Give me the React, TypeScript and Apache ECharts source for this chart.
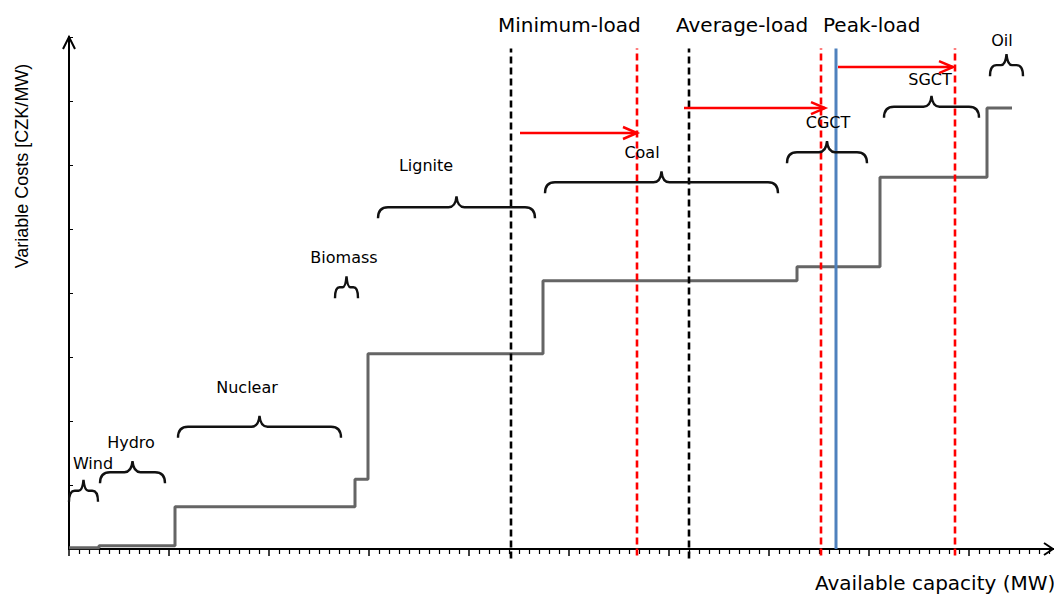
import React, { useEffect, useRef } from "react";
import * as echarts from "echarts";

// Merit-order step curve: capacity breakpoints (MW) and variable cost of each block
const stepBreaks = [0, 300, 1060, 2860, 2990, 4740, 7280, 8110, 9180, 9430];
const stepCosts = [2, 5, 66, 109, 305, 419, 441, 581, 689];

// Technology braces (capacity span and brace level) and label anchors
const sourceNames = ["Wind", "Hydro", "Nuclear", "Biomass", "Lignite", "Coal", "CGCT", "SGCT", "Oil"];
const braceStart = [0, 310, 1090, 2660, 3090, 4760, 7180, 8150, 9210];
const braceEnd = [290, 960, 2720, 2890, 4660, 7090, 7980, 9100, 9540];
const braceLevel = [91, 120, 191, 409, 534, 573, 620, 691, 756];
const labelX = [240, 620, 1780, 2750, 3570, 5730, 7590, 8610, 9330];
const labelY = [134, 166, 253, 455, 600, 620, 666, 734, 794];

// Load levels and shifted loads
const loadNames = ["Minimum-load", "Average-load", "Peak-load"];
const loadX = [4420, 6200, 7670];
const shiftedLoadX = [5680, 7520, 8860];
const arrowFrom = [4510, 6150, 7690];
const arrowTo = [5680, 7560, 8840];
const arrowCost = [650, 689, 753];

const lineTop = 782;
const headerCost = 819;

const yTicks = [0, 100, 200, 300, 400, 500, 600, 700, 800];
const xTicks = [0, 1000, 2000, 3000, 4000, 5000, 6000, 7000, 8000, 9000, 10000];

export default function App() {
  const ref = useRef<HTMLDivElement>(null);

  useEffect(() => {
    if (!ref.current) return;
    const chart = echarts.init(ref.current, null, { renderer: "svg" });

    const stepData = stepBreaks.map((x, i) => [x, stepCosts[Math.min(i, stepCosts.length - 1)]]);

    const loadSeries = loadX.map((x, i) => ({
      type: "line",
      name: loadNames[i],
      data: [
        [x, i === 2 ? 0 : -15],
        [x, lineTop],
      ],
      symbol: "none",
      clip: false,
      silent: true,
      z: 4,
      lineStyle:
        i === 2
          ? { color: "#4f81bd", width: 3 }
          : { color: "#000000", width: 2.6, type: [7, 4] },
    }));

    const shiftedSeries = shiftedLoadX.map((x) => ({
      type: "line",
      data: [
        [x, -10],
        [x, lineTop],
      ],
      symbol: "none",
      clip: false,
      silent: true,
      z: 4,
      lineStyle: { color: "#ff0000", width: 2.6, type: [7, 4] },
    }));

    const option: any = {
      animation: false,
      grid: {
        left: 69,
        width: 1000,
        top: 37,
        height: 512,
        containLabel: false,
        outerBoundsMode: "none",
      },
      xAxis: {
        type: "value",
        min: xTicks[0],
        max: xTicks[xTicks.length - 1],
        interval: 1000,
        axisLine: { show: true, onZero: false, lineStyle: { color: "#000", width: 2 } },
        axisTick: { show: true, length: 7, lineStyle: { color: "#000", width: 1.5 } },
        minorTick: { show: true, splitNumber: 10, length: 5, lineStyle: { color: "#000", width: 1.2 } },
        axisLabel: { show: false },
        splitLine: { show: false },
        minorSplitLine: { show: false },
      },
      yAxis: {
        type: "value",
        min: yTicks[0],
        max: yTicks[yTicks.length - 1],
        interval: 100,
        axisLine: { show: true, onZero: false, lineStyle: { color: "#000", width: 2 } },
        axisTick: { show: true, inside: true, length: 4, lineStyle: { color: "#000", width: 1 } },
        axisLabel: { show: false },
        splitLine: { show: false },
      },
      graphic: [
        {
          type: "rect",
          shape: { x: 1054, y: 0, width: 40, height: 594 },
          style: { fill: "#fff" },
          z: 100,
        },
        {
          type: "polyline",
          shape: { points: [[63, 49], [69, 37], [75, 49]] },
          style: { stroke: "#000", lineWidth: 2, fill: "none" },
        },
        {
          type: "polyline",
          shape: { points: [[1044, 543], [1053, 549], [1044, 555]] },
          style: { stroke: "#000", lineWidth: 2, fill: "none" },
        },
        {
          type: "text",
          x: 22,
          y: 166,
          rotation: Math.PI / 2,
          style: {
            text: "Variable Costs [CZK/MW)",
            font: '18px "Liberation Sans"',
            fill: "#000",
            textAlign: "center",
            textVerticalAlign: "middle",
            align: "center",
            verticalAlign: "middle",
          },
        },
        {
          type: "text",
          x: 815,
          y: 583,
          style: {
            text: "Available capacity (MW)",
            font: '20px "DejaVu Sans"',
            fill: "#000",
            textAlign: "left",
            textVerticalAlign: "middle",
            align: "left",
            verticalAlign: "middle",
          },
        },
      ],
      series: [
        {
          type: "line",
          name: "Merit order",
          data: stepData,
          step: "end",
          symbol: "none",
          clip: false,
          silent: true,
          z: 3,
          lineStyle: { color: "#656565", width: 3 },
        },
        ...loadSeries,
        ...shiftedSeries,
        {
          type: "custom",
          name: "braces",
          clip: false,
          silent: true,
          z: 5,
          encode: { x: [0, 1], y: 2 },
          data: sourceNames.map((_, i) => [braceStart[i], braceEnd[i], braceLevel[i]]),
          renderItem: (params: any, api: any) => {
            const p1 = api.coord([api.value(0), api.value(2)]);
            const p2 = api.coord([api.value(1), api.value(2)]);
            const L = p1[0];
            const R = p2[0];
            const y = p1[1];
            const M = (L + R) / 2;
            const w = R - L;
            const tip = 11;
            const drop = 11;
            const r = Math.min(10, w / 5);
            const t = Math.min(8, w / 6);
            const d =
              `M${L},${y + drop} Q${L},${y} ${L + r},${y} L${M - t},${y} ` +
              `Q${M - 1},${y} ${M},${y - tip} Q${M + 1},${y} ${M + t},${y} ` +
              `L${R - r},${y} Q${R},${y} ${R},${y + drop}`;
            return {
              type: "path",
              shape: { pathData: d },
              style: { stroke: "#111", lineWidth: 2.4, fill: "none" },
            };
          },
        },
        {
          type: "custom",
          name: "source labels",
          clip: false,
          silent: true,
          z: 5,
          encode: { x: 0, y: 1 },
          data: sourceNames.map((_, i) => [labelX[i], labelY[i]]),
          renderItem: (params: any, api: any) => {
            const c = api.coord([api.value(0), api.value(1)]);
            return {
              type: "text",
              x: c[0],
              y: c[1],
              style: {
                text: sourceNames[params.dataIndex],
                font: '16px "DejaVu Sans"',
                fill: "#000",
                align: "center",
                verticalAlign: "middle",
              },
            };
          },
        },
        {
          type: "custom",
          name: "load headers",
          clip: false,
          silent: true,
          z: 5,
          encode: { x: 0, y: 1 },
          data: loadX.map((x) => [x, headerCost]),
          renderItem: (params: any, api: any) => {
            const c = api.coord([api.value(0), api.value(1)]);
            return {
              type: "text",
              x: c[0] - 13,
              y: c[1],
              style: {
                text: loadNames[params.dataIndex],
                font: '20px "DejaVu Sans"',
                fill: "#000",
                align: "left",
                verticalAlign: "middle",
              },
            };
          },
        },
        {
          type: "custom",
          name: "shift arrows",
          clip: false,
          silent: true,
          z: 6,
          encode: { x: [0, 1], y: 2 },
          data: arrowFrom.map((x, i) => [x, arrowTo[i], arrowCost[i]]),
          renderItem: (params: any, api: any) => {
            const a = api.coord([api.value(0), api.value(2)]);
            const b = api.coord([api.value(1), api.value(2)]);
            return {
              type: "group",
              children: [
                {
                  type: "line",
                  shape: { x1: a[0], y1: a[1], x2: b[0], y2: b[1] },
                  style: { stroke: "#ff0000", lineWidth: 2.5 },
                },
                {
                  type: "polyline",
                  shape: { points: [[b[0] - 14, b[1] - 6], [b[0], b[1]], [b[0] - 14, b[1] + 6]] },
                  style: { stroke: "#ff0000", lineWidth: 2.5, fill: "none" },
                },
              ],
            };
          },
        },
      ],
    };

    chart.setOption(option);
    return () => {
      chart.dispose();
    };
  }, []);

  return (
    <div
      ref={ref}
      style={{ position: "fixed", left: 0, top: 0, width: 1054, height: 594, background: "#fff" }}
    />
  );
}
